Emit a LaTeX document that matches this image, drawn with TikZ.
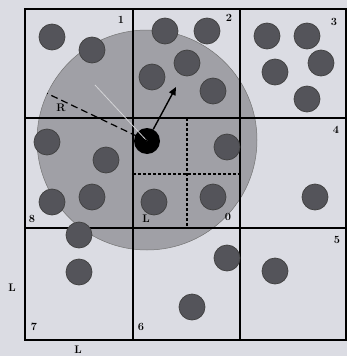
\documentclass[tikz,border=0pt]{standalone}
\usetikzlibrary{arrows.meta,positioning,calc}
\definecolor{Xpaper}{RGB}{219,220,227}
\definecolor{Xdisk}{RGB}{160,160,166}
\definecolor{Xpart}{RGB}{84,84,90}
\tikzset{
  cellline/.style={line width=1.3pt, draw=black},
  subline/.style={line width=1.1pt, draw=black, densely dashed},
  particle/.style={circle, minimum size=26pt, inner sep=0pt, fill=Xpart, draw=black!75, line width=0.7pt},
  central/.style={circle, minimum size=26pt, inner sep=0pt, fill=black},
  cellnum/.style={font=\fontsize{11}{13}\selectfont\bfseries, inner sep=0pt},
  velarrow/.style={-{Triangle[length=8pt,width=7pt]}, line width=1.4pt},
  radius line/.style={dashed, dash pattern=on 7pt off 4pt, line width=1.2pt}
}

\begin{document}
\begin{tikzpicture}[x=1pt,y=-1pt]
  \useasboundingbox[fill=Xpaper] (0,0) rectangle (347,356);
  % cutoff sphere around the central particle
  \node[circle, minimum size=220pt, inner sep=0pt, fill=Xdisk, draw=black!55, line width=0.5pt] (cut) at (147,140) {};
  % cell grid
  \draw[cellline] (25,9) rectangle (346,340);
  \foreach \x in {133,240}
    \draw[cellline] (\x,9) -- (\x,340);
  \foreach \y in {118,228}
    \draw[cellline] (25,\y) -- (346,\y);
  % subcells of cell 0
  \draw[subline] (187,118) -- (187,228);
  \draw[subline] (133,174) -- (240,174);
  % particles
  \foreach \x/\y [count=\i] in {52/37, 92/50, 165/31, 207/31, 187/63, 152/77, 213/91,
      267/36, 307/36, 275/72, 321/63, 307/99, 47/142, 106/160, 52/202, 92/197,
      227/147, 154/202, 213/197, 315/197, 79/235, 79/272, 227/258, 192/307, 275/271}
    \node[particle] (p\i) at (\x,\y) {};
  \node[central] (self) at (147,141) {};
  \coordinate (glint) at (95,85);
  \draw[white!55!Xdisk, line width=0.8pt] (self.center) -- (glint);
  \draw[radius line] (self.center) -- (cut.155);
  \coordinate (vel) at (176,87);
  \draw[velarrow] (self) -- (vel);
  % labels
  \node[cellnum] (rlab) at (61,108) {R};
  \node[cellnum] (n1) at (121,20) {1};
  \node[cellnum] (n2) at (229,18) {2};
  \node[cellnum] (n3) at (334,22) {3};
  \node[cellnum] (n4) at (336,130) {4};
  \node[cellnum] (n5) at (337,240) {5};
  \node[cellnum] (n6) at (141,327) {6};
  \node[cellnum] (n7) at (34,327) {7};
  \node[cellnum] (n8) at (32,219) {8};
  \node[cellnum] (n0) at (228,217) {0};
  \node[cellnum] (lin) at (146,219) {L};
  \node[cellnum] (lside) at (12,288) {L};
  \node[cellnum] (lbot) at (78,350) {L};
\end{tikzpicture}
\end{document}
